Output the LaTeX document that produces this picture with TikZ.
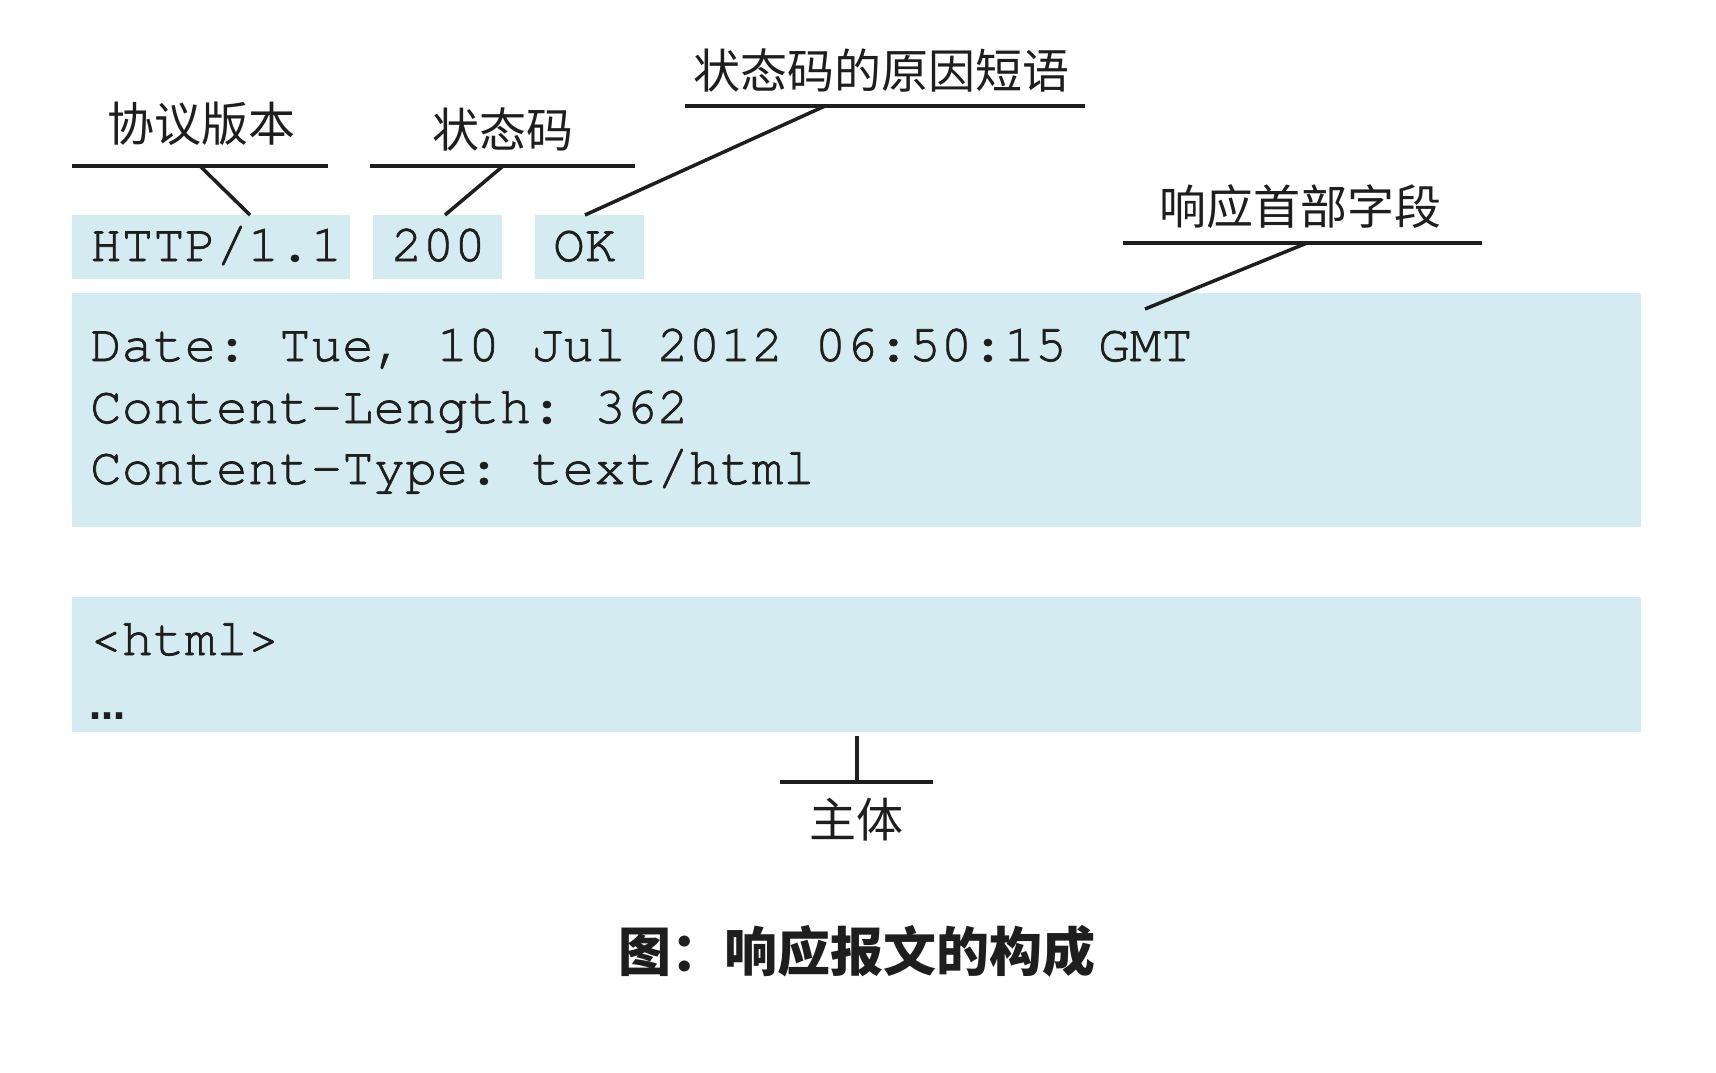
\documentclass[tikz,border=0pt]{standalone}
\usepackage{fontspec}
\newfontfamily\cjk{Noto Sans CJK SC}
\newfontfamily\codefont[FakeBold=1.3]{texgyrecursor-regular.otf}
\newfontfamily\dotsfont{DejaVu Sans}
\definecolor{boxblue}{HTML}{D4EBF2}
\definecolor{ink}{HTML}{1E1E1E}
\tikzset{
  box/.style={fill=boxblue, draw=none, anchor=north west, inner sep=0pt},
  mono/.style={anchor=base west, inner sep=0pt, text=ink, font=\codefont\fontsize{52.5}{60}\selectfont},
  lbl/.style={inner sep=0pt, text=ink, font=\cjk\fontsize{47}{50}\selectfont},
  bar/.style={line width=4.5pt, ink},
  tie/.style={line width=3.5pt, ink}
}
\begin{document}
\frenchspacing
\begin{tikzpicture}[x=1pt,y=-1pt]
\useasboundingbox (0,0) rectangle (1716,1072);
\fill[white] (0,0) rectangle (1716,1072);

% boxes
\node[box, minimum width=278pt, minimum height=64pt] (ver) at (72,215) {};
\node[box, minimum width=129pt, minimum height=64pt] (code) at (373,215) {};
\node[box, minimum width=109pt, minimum height=64pt] (ok) at (535,215) {};
\node[box, minimum width=1569pt, minimum height=234pt] (hdr) at (72,293) {};
\node[box, minimum width=1569pt, minimum height=135pt] (body) at (72,597) {};

% texts in boxes
\node[mono] (tver) at (90,261) {HTTP/1.1};
\node[mono] (tcode) at (391,261) {200};
\node[mono] (tok) at (553,261) {OK};
\node[mono] (h1) at (90,361) {Date: Tue, 10 Jul 2012 06:50:15 GMT};
\node[mono] (h2) at (90,423) {Content-Length: 362};
\node[mono] (h3) at (90,484) {Content-Type: text/html};
\node[mono] (b1) at (90,655) {<html>};
\node[anchor=base west, inner sep=0pt, text=ink, font=\dotsfont\bfseries\fontsize{36}{36}\selectfont] (b2) at (89,719) {…};

% labels
\node[lbl] (lver) at (201,124) {协议版本};
\node[lbl] (lcode) at (503,129) {状态码};
\node[lbl] (lreason) at (881,71) {状态码的原因短语};
\node[lbl] (lhdr) at (1300,207) {响应首部字段};
\node[lbl] (lbody) at (856,820) {主体};
\node[inner sep=0pt, text=ink, font=\cjk\bfseries\fontsize{53}{56}\selectfont] (cap) at (857,951) {图：响应报文的构成};

% label bars
\coordinate (verA) at (72,166);  \coordinate (verB) at (328,166);
\coordinate (codeA) at (370,166); \coordinate (codeB) at (635,166);
\coordinate (reasonA) at (685,106); \coordinate (reasonB) at (1085,106);
\coordinate (hdrA) at (1123,243); \coordinate (hdrB) at (1482,243);
\coordinate (bodyA) at (780,782); \coordinate (bodyB) at (933,782);
\draw[bar] (verA) -- (verB);
\draw[bar] (codeA) -- (codeB);
\draw[bar] (reasonA) -- (reasonB);
\draw[bar] (hdrA) -- (hdrB);
\draw[bar] (bodyA) -- (bodyB);

% ties
\coordinate (verM) at (200,166);   \coordinate (verT) at (250,215);
\coordinate (codeM) at (503,166);  \coordinate (codeT) at (445,215);
\coordinate (reasonM) at (825,106); \coordinate (reasonT) at (585,215);
\coordinate (hdrM) at (1307,243);  \coordinate (hdrT) at (1145,309);
\coordinate (bodyM) at (857,782);  \coordinate (bodyT) at (857,736);
\draw[tie] (verM) -- (verT);
\draw[tie] (codeM) -- (codeT);
\draw[tie] (reasonM) -- (reasonT);
\draw[tie] (hdrM) -- (hdrT);
\draw[tie] (bodyM) -- (bodyT);
\end{tikzpicture}
\end{document}
